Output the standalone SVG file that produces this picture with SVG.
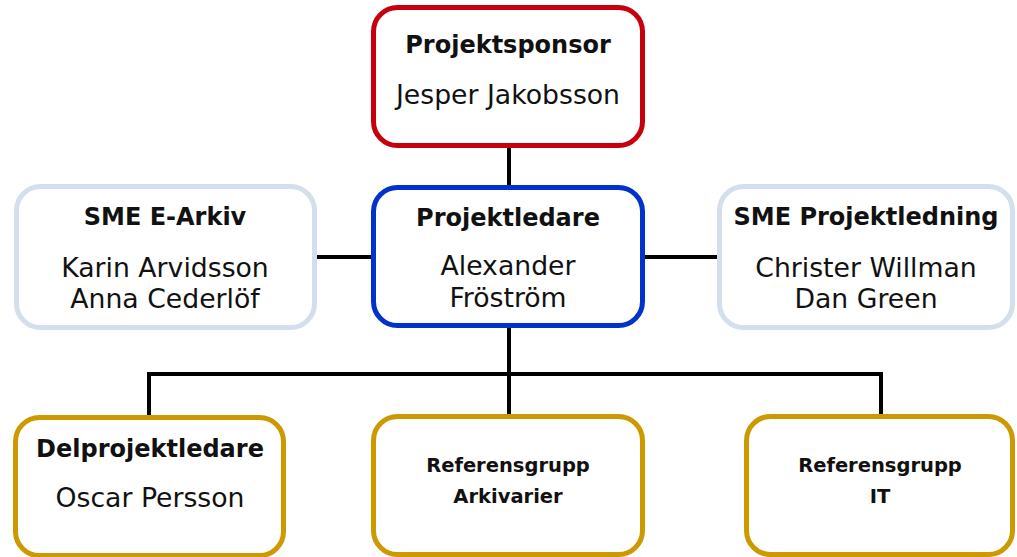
<svg xmlns="http://www.w3.org/2000/svg" width="1017" height="557" viewBox="0 0 1017 557">
<style>
.box{fill:#fff;stroke-width:5}
.red{stroke:#c8000e}
.blue{stroke:#0033cc}
.lb{stroke:#d3dfec}
.gold{stroke:#cc9900}
text{font-family:"DejaVu Sans",sans-serif;text-anchor:middle;fill:#111}
.t{font-weight:bold;font-size:24px}
.n{font-size:26.7px}
.s{font-weight:bold;font-size:19.5px}
.conn{stroke:#000;stroke-width:4;fill:none}
</style>
<rect width="1017" height="557" fill="#fff"/>
<g id="connectors">
<path class="conn" d="M509 146V187M317 257H373M643 257H719M509 325V374M149 374H881M149 372V417M509 372V416M881 372V416"/>
</g>
<g id="sponsor">
<rect class="box red" x="373.5" y="7.5" width="269" height="138" rx="24"/>
<text class="t" x="508" y="53">Projektsponsor</text>
<text class="n" x="508" y="104">Jesper Jakobsson</text>
</g>
<g id="projektledare">
<rect class="box blue" x="373.5" y="187.5" width="269" height="138" rx="24"/>
<text class="t" x="508" y="226">Projektledare</text>
<text class="n" x="508" y="275">Alexander</text>
<text class="n" x="508" y="307">Fröström</text>
</g>
<g id="sme-earkiv">
<rect class="box lb" x="16.5" y="186.5" width="298" height="141" rx="24"/>
<text class="t" x="165" y="225">SME E-Arkiv</text>
<text class="n" x="165" y="277">Karin Arvidsson</text>
<text class="n" x="165" y="308">Anna Cederlöf</text>
</g>
<g id="sme-projektledning">
<rect class="box lb" x="719.5" y="186.5" width="293" height="141" rx="24"/>
<text class="t" x="866" y="225">SME Projektledning</text>
<text class="n" x="866" y="277">Christer Willman</text>
<text class="n" x="866" y="308">Dan Green</text>
</g>
<g id="delprojektledare">
<rect class="box gold" x="15.5" y="417.5" width="268" height="138" rx="24"/>
<text class="t" x="150" y="457">Delprojektledare</text>
<text class="n" x="150" y="507">Oscar Persson</text>
</g>
<g id="ref-arkivarier">
<rect class="box gold" x="373.5" y="416.5" width="269" height="138" rx="24"/>
<text class="s" x="508" y="472">Referensgrupp</text>
<text class="s" x="508" y="503">Arkivarier</text>
</g>
<g id="ref-it">
<rect class="box gold" x="746.5" y="416.5" width="266" height="138" rx="24"/>
<text class="s" x="880" y="472">Referensgrupp</text>
<text class="s" x="880" y="503">IT</text>
</g>
</svg>
